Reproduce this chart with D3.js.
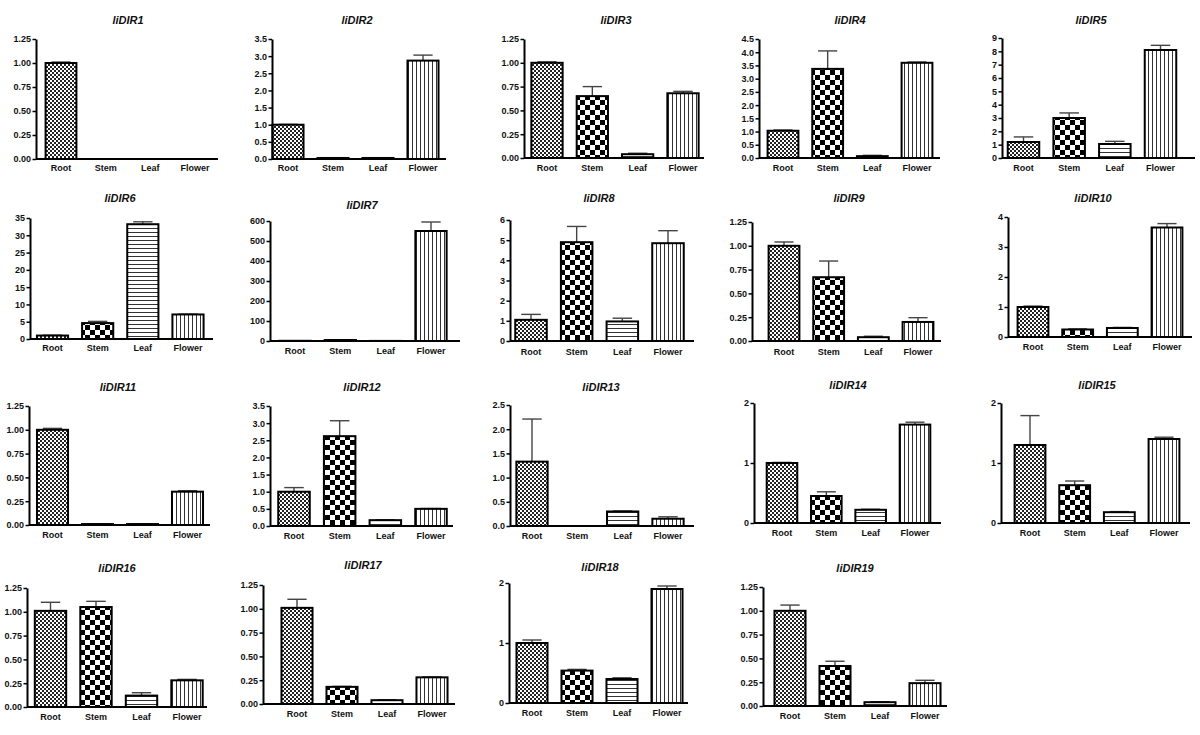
<!DOCTYPE html>
<html><head><meta charset="utf-8">
<script src="https://cdn.jsdelivr.net/npm/d3@7"></script>
<style>
body{margin:0;background:#fff}
svg{display:block}
</style></head><body>
<svg id="chart" width="1200" height="735"></svg>
<script>
// ---------- data ----------
const categories = ["Root", "Stem", "Leaf", "Flower"];
const genes = ["liDIR1","liDIR2","liDIR3","liDIR4","liDIR5","liDIR6","liDIR7","liDIR8","liDIR9","liDIR10",
               "liDIR11","liDIR12","liDIR13","liDIR14","liDIR15","liDIR16","liDIR17","liDIR18","liDIR19"];
const rootValues   = [1.00, 1.00, 1.00, 1.03, 1.20, 1.00, 1.0, 1.05, 1.00, 1.00, 1.00, 1.00, 1.33, 1.00, 1.30, 1.01, 1.01, 1.00, 1.00];
const rootErr      = [0.01, 0.01, 0.01, 0.03, 0.38, 0.10, 0.2, 0.27, 0.04, 0.03, 0.015,0.12, 0.88, 0.01, 0.49, 0.09, 0.09, 0.05, 0.06];
const stemValues   = [0,    0.03, 0.65, 3.37, 3.00, 4.60, 5,   4.90, 0.67, 0.25, 0.01, 2.62, 0,    0.45, 0.63, 1.05, 0.18, 0.54, 0.42];
const stemErr      = [0,    0.005,0.10, 0.68, 0.38, 0.50, 1,   0.78, 0.17, 0.02, 0.002,0.45, 0,    0.07, 0.07, 0.06, 0.005,0.02, 0.05];
const leafValues   = [0,    0.03, 0.04, 0.07, 1.05, 33.2, 0.5, 0.97, 0.04, 0.30, 0.01, 0.17, 0.30, 0.22, 0.18, 0.12, 0.04, 0.40, 0.04];
const leafErr      = [0,    0.005,0.01, 0.03, 0.20, 0.70, 0.1, 0.16, 0.01, 0.02, 0.002,0.01, 0.01, 0.01, 0.01, 0.03, 0.005,0.02, 0.005];
const flowerValues = [0,    2.87, 0.68, 3.60, 8.10, 7.10, 550, 4.85, 0.20, 3.65, 0.35, 0.50, 0.15, 1.64, 1.40, 0.28, 0.28, 1.90, 0.24];
const flowerErr    = [0,    0.16, 0.02, 0.03, 0.35, 0.10, 45,  0.62, 0.045,0.13, 0.01, 0.01, 0.04, 0.04, 0.03, 0.01, 0.005,0.05, 0.03];
// y-axis tick labels
const yTickMax      = [1.25, 3.5, 1.25, 4.5, 9, 35, 600, 6, 1.25, 4, 1.25, 3.5, 2.5, 2, 2, 1.25, 1.25, 2, 1.25];
const yTickStep     = [0.25, 0.5, 0.25, 0.5, 1, 5, 100, 1, 0.25, 1, 0.25, 0.5, 0.5, 1, 1, 0.25, 0.25, 1, 0.25];
const yTickDecimals = [2, 1, 2, 1, 0, 0, 0, 0, 2, 0, 2, 1, 1, 0, 0, 2, 2, 0, 2];

// ---------- layout (pixel geometry of each panel) ----------
// [axisX, firstCenter, lastCenter, axisEnd, yTop, yBase, titleX, titleY, labelY]
const layout = [
  [36, 61, 195, 218, 39, 159, 128, 20, 168],
  [272, 288, 423, 446, 39, 159, 357, 20, 168],
  [524, 547, 683, 704, 39, 158, 616, 20, 168],
  [759, 783, 917, 940, 39, 158, 850, 20, 168],
  [1002, 1023.5, 1160.5, 1195, 38, 158, 1091, 20, 168],
  [30, 52.5, 188, 213, 218, 339, 120, 198, 348],
  [270, 295, 431, 460, 221, 341, 362, 205, 351],
  [510, 531, 668, 694, 220, 341, 599, 198, 352],
  [752, 784, 918, 941, 222, 341, 849, 198, 352],
  [1008, 1033, 1167, 1192, 217, 337, 1093, 198, 347],
  [29, 52.5, 187.5, 210, 406, 525, 118, 387, 535],
  [270, 294, 431, 453, 406, 526, 362, 387, 536],
  [510, 532, 668, 694, 405, 526, 601, 387, 536],
  [754, 782, 915, 941, 403, 523, 848, 385, 533],
  [1001, 1030, 1164, 1190, 403, 523, 1097, 385, 533],
  [27, 50.5, 187, 207, 588, 707, 117, 568, 717],
  [263, 297, 432, 455, 585, 704, 363, 565, 714],
  [509, 532, 667, 688, 583, 703, 600, 567, 713],
  [763, 790, 925, 947, 587, 706, 855, 568, 716]
];

const FONT = '"Liberation Sans", Arial, Helvetica, sans-serif';
const svg = d3.select("#chart");
const defs = svg.append("defs");

// patterns
function pattern(id, w, h, build) {
  const p = defs.append("pattern").attr("id", id).attr("patternUnits", "userSpaceOnUse")
    .attr("width", w).attr("height", h);
  p.append("rect").attr("width", w).attr("height", h).attr("fill", "#fff");
  build(p);
}
pattern("pRoot", 4, 4, p => {
  p.append("rect").attr("width", 2).attr("height", 2).attr("fill", "#222");
  p.append("rect").attr("x", 2).attr("y", 2).attr("width", 2).attr("height", 2).attr("fill", "#222");
});
pattern("pStem", 10, 10, p => {
  p.append("rect").attr("width", 5).attr("height", 5).attr("fill", "#000");
  p.append("rect").attr("x", 5).attr("y", 5).attr("width", 5).attr("height", 5).attr("fill", "#000");
});
pattern("pLeaf", 4, 4, p => {
  p.append("rect").attr("y", 0).attr("width", 4).attr("height", 1).attr("fill", "#333");
});
pattern("pFlower", 4, 4, p => {
  p.append("rect").attr("x", 0).attr("width", 1).attr("height", 4).attr("fill", "#333");
});
const fills = ["url(#pRoot)", "url(#pStem)", "url(#pLeaf)", "url(#pFlower)"];
const valueSeries = [rootValues, stemValues, leafValues, flowerValues];
const errSeries = [rootErr, stemErr, leafErr, flowerErr];

genes.forEach((gene, gi) => {
  const [ax, c0, c3, axEnd, yTop, yBase, tx, ty, ly] = layout[gi];
  const step = (c3 - c0) / 3;
  const pad = 0.31;
  const x = d3.scaleBand().domain(categories)
    .range([c0 - step / 2, c3 + step / 2]).paddingInner(pad).paddingOuter(pad / 2);
  const y = d3.scaleLinear().domain([0, yTickMax[gi]]).range([yBase, yTop]);
  const g = svg.append("g");

  // title
  g.append("text").attr("x", tx).attr("y", ty).attr("dy", "0.35em")
    .attr("text-anchor", "middle").attr("font-family", FONT)
    .attr("font-size", 11).attr("font-weight", "bold").attr("font-style", "italic")
    .attr("fill", "#111").text(gene);

  // bars
  const bw = x.bandwidth();
  categories.forEach((cat, ci) => {
    const v = valueSeries[ci][gi];
    if (v <= 0) return;
    const e = errSeries[ci][gi];
    const bx = x(cat);
    // error bar (upper only)
    const cx = bx + bw / 2;
    const capW = bw * 0.62;
    g.append("line").attr("x1", cx).attr("x2", cx).attr("y1", y(v)).attr("y2", y(v + e))
      .attr("stroke", "#444").attr("stroke-width", 1.4);
    g.append("line").attr("x1", cx - capW / 2).attr("x2", cx + capW / 2)
      .attr("y1", y(v + e)).attr("y2", y(v + e))
      .attr("stroke", "#444").attr("stroke-width", 1.4);
    g.append("rect").attr("x", bx).attr("y", y(v)).attr("width", bw)
      .attr("height", Math.max(0, y(0) - y(v)))
      .attr("fill", fills[ci]).attr("stroke", "#000").attr("stroke-width", 2);
  });

  // x axis line
  g.append("line").attr("x1", ax).attr("x2", axEnd).attr("y1", yBase).attr("y2", yBase)
    .attr("stroke", "#000").attr("stroke-width", 2);
  // x labels
  categories.forEach(cat => {
    g.append("text").attr("x", x(cat) + bw / 2).attr("y", ly).attr("dy", "0.35em")
      .attr("text-anchor", "middle").attr("font-family", FONT).attr("font-size", 9)
      .attr("font-weight", "bold").attr("fill", "#111").text(cat);
  });

  // y axis
  const ticks = d3.range(0, yTickMax[gi] + yTickStep[gi] / 2, yTickStep[gi]);
  const yAxis = d3.axisLeft(y).tickValues(ticks).tickSize(3.5).tickSizeOuter(0).tickPadding(1.5)
    .tickFormat(d3.format("." + yTickDecimals[gi] + "f"));
  const ga = g.append("g").attr("transform", `translate(${ax},0)`).call(yAxis);
  ga.attr("font-family", FONT).attr("font-size", 9).attr("font-weight", "bold");
  ga.select(".domain").attr("stroke", "#000").attr("stroke-width", 2);
  ga.selectAll(".tick line").attr("stroke", "#000").attr("stroke-width", 1.5);
  ga.selectAll(".tick text").attr("fill", "#111");
});
</script>
</body></html>
